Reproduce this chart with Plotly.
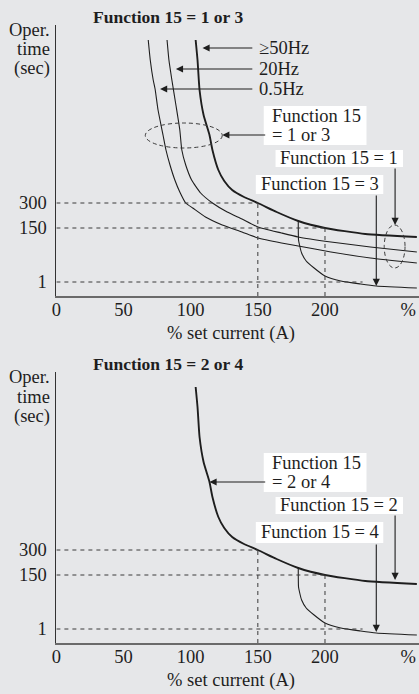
import plotly.graph_objects as go

FONT = "Liberation Serif, Times New Roman, serif"
INK = "#1e1e1e"
BG = "#e6e7e9"
W, H = 419, 694
FS = 18.5

# ---------------- data ----------------
current_ticks = [0, 50, 100, 150, 200, 262]
current_tick_labels = ["0", "50", "100", "150", "200", "%"]
time_tick_pos = [93, 68, 14]          # position of the (non-linear) time ticks
time_tick_labels = ["300", "150", "1"]

guide_levels = [93, 68, 14]           # dashed horizontal guides (300, 150, 1 s)
guide_ends = [150, 200, 228]          # where each horizontal guide stops (% current)
ref_currents = [150, 200]             # dashed vertical guides
ref_levels = [93, 68]

# >=50Hz  (also Function 15 = 2 or 4 main curve)
cur_50hz = [103.7, 105.1, 106.6, 109.6, 114.0, 116.2, 120.6, 125.0, 130.9, 139.7,
            150.0, 164.0, 180.1, 200.0, 230.0, 268.4]
time_50hz = [256, 236, 206, 181, 161, 146, 126, 115, 106, 99,
             93, 84, 75, 68, 62, 59]

# 20Hz
cur_20hz = [82.4, 83.8, 86.0, 89.0, 91.9, 93.4, 96.3, 100.7, 107.4, 116.2,
            127.2, 138.2, 150.0, 167.6, 180.1, 204.4, 233.8, 268.4]
time_20hz = [256, 236, 216, 191, 166, 146, 131, 116, 103, 93,
             84, 77, 69, 63, 59, 54, 49, 44]

# 0.5Hz
cur_05hz = [68.4, 69.9, 72.1, 73.5, 75.7, 79.4, 81.6, 84.6, 88.2, 91.9,
            96.3, 101.5, 111.0, 123.5, 138.2, 150.0, 167.6, 180.1, 204.4, 233.8, 268.4]
time_05hz = [256, 236, 216, 207, 186, 161, 146, 131, 116, 104,
             93, 88, 79, 71, 64, 58, 53, 50, 44, 38, 33]

# Function 15 = 3 / 4 branch
cur_branch = [180.1, 180.3, 181.2, 182.6, 186.0, 191.9, 200.0, 211.8, 226.5, 238.2, 268.4]
time_branch = [75, 56, 50, 43, 35, 28, 20, 15, 12, 10, 8]

# ---------------- figure ----------------
fig = go.Figure()


def curve(xs, ys, width, sfx):
    fig.add_trace(go.Scatter(
        x=xs, y=ys, mode="lines",
        line=dict(color=INK, width=width, shape="spline", smoothing=0.5),
        xaxis="x" + sfx, yaxis="y" + sfx, hoverinfo="skip", showlegend=False))


shapes = []
annots = []


def txt(text, x, y, sfx, xanchor="left", bold=False, yref=None):
    annots.append(dict(
        text=("<b>%s</b>" % text) if bold else text,
        x=x, y=y, xref="x" + sfx, yref=yref or ("y" + sfx),
        xanchor=xanchor, yanchor="middle", showarrow=False,
        font=dict(family=FONT, size=FS, color=INK)))


def arrow(x, y, ax, ay, sfx):
    annots.append(dict(
        text="", x=x, y=y, ax=ax, ay=ay, xref="x" + sfx, yref="y" + sfx,
        axref="x" + sfx, ayref="y" + sfx, showarrow=True,
        arrowhead=2, arrowsize=1.3, arrowwidth=1.1, arrowcolor=INK))


def box(x0, x1, y0, y1, sfx):
    shapes.append(dict(type="rect", xref="x" + sfx, yref="y" + sfx,
                       x0=x0, x1=x1, y0=y0, y1=y1,
                       fillcolor="white", line=dict(width=0)))


def dline(x0, y0, x1, y1, sfx):
    shapes.append(dict(type="line", xref="x" + sfx, yref="y" + sfx,
                       x0=x0, y0=y0, x1=x1, y1=y1,
                       line=dict(color="#3a3a3a", width=1, dash="4px,4px")))


def ellipse(x0, x1, y0, y1, sfx):
    shapes.append(dict(type="circle", xref="x" + sfx, yref="y" + sfx,
                       x0=x0, x1=x1, y0=y0, y1=y1,
                       line=dict(color="#3a3a3a", width=1, dash="4px,3px")))


def panel(sfx, axis_px, title):
    # guides
    for lev, end in zip(guide_levels, guide_ends):
        dline(0, lev, end, lev, sfx)
    for c, lev in zip(ref_currents, ref_levels):
        dline(c, 0, c, lev, sfx)
    # title + y label (paper coords)
    py = lambda p: (H - p) / H
    annots.append(dict(text="<b>%s</b>" % title, x=83, y=py(axis_px - 279),
                       xref="x" + sfx, yref="paper", showarrow=False,
                       xanchor="center", yanchor="middle",
                       font=dict(family=FONT, size=17.5, color=INK)))
    for i, line in enumerate(["Oper.", "time", "(sec)"]):
        annots.append(dict(text=line, x=48 / W, y=py(axis_px - 266 + 19.5 * i),
                           xref="paper", yref="paper", showarrow=False,
                           xanchor="right", yanchor="middle",
                           font=dict(family=FONT, size=FS, color=INK)))
    annots.append(dict(text="% set current (A)", x=130, y=py(axis_px + 37),
                       xref="x" + sfx, yref="paper", showarrow=False,
                       xanchor="center", yanchor="middle",
                       font=dict(family=FONT, size=FS, color=INK)))


# ---- top panel: Function 15 = 1 or 3 ----
panel("", 296, "Function 15 = 1 or 3")
curve(cur_05hz, time_05hz, 1.1, "")
curve(cur_20hz, time_20hz, 1.1, "")
curve(cur_branch, time_branch, 1.1, "")
curve(cur_50hz, time_50hz, 1.9, "")

arrow(108.8, 248, 147, 248, "")
arrow(89.0, 227, 147, 227, "")
arrow(77.2, 207, 147, 207, "")
txt("≥50Hz", 149.3, 248, "")
txt("20Hz", 149.3, 227, "")
txt("0.5Hz", 149.3, 207, "")

ellipse(66.2, 123.5, 148, 173, "")
box(154.4, 230.9, 151, 190, "")
txt("Function 15", 159, 180, "")
txt("= 1 or 3", 159, 161, "")
arrow(123.5, 161, 156.6, 161, "")

box(163.2, 258.1, 129, 146, "")
txt("Function 15 = 1", 210.7, 138, "", xanchor="center")
arrow(252.2, 71, 252.2, 129, "")
ellipse(244.1, 259.6, 28, 71, "")

box(148.5, 243.4, 102, 121, "")
txt("Function 15 = 3", 196, 111.5, "", xanchor="center")
arrow(238.2, 10, 238.2, 102, "")

# ---- bottom panel: Function 15 = 2 or 4 ----
panel("2", 643, "Function 15 = 2 or 4")
curve(cur_branch, time_branch, 1.1, "2")
curve(cur_50hz, time_50hz, 1.9, "2")

box(154.4, 230.9, 151, 190, "2")
txt("Function 15", 159, 180, "2")
txt("= 2 or 4", 159, 161, "2")
arrow(114.0, 161, 156.6, 161, "2")

box(163.2, 258.1, 129, 146, "2")
txt("Function 15 = 2", 210.7, 138, "2", xanchor="center")
arrow(252.2, 63, 252.2, 129, "2")

box(148.5, 243.4, 100, 121, "2")
txt("Function 15 = 4", 196, 111, "2", xanchor="center")
arrow(238.2, 11, 238.2, 100, "2")

# ---------------- axes ----------------
xcommon = dict(range=[0, 270], showgrid=False, zeroline=False, showline=True,
               linecolor="#6a6a6a", linewidth=2, ticks="",
               tickvals=current_ticks, ticktext=current_tick_labels,
               ticklabelstandoff=-4,
               tickfont=dict(family=FONT, size=FS, color=INK), fixedrange=True)
ycommon = dict(range=[0, 271], showgrid=False, zeroline=False, showline=True,
               linecolor="#333333", linewidth=1, ticks="",
               tickvals=time_tick_pos, ticktext=time_tick_labels,
               ticklabelstandoff=5,
               tickfont=dict(family=FONT, size=FS, color=INK), fixedrange=True)

fig.update_layout(
    width=W, height=H,
    margin=dict(l=0, r=0, t=0, b=0),
    paper_bgcolor=BG, plot_bgcolor=BG,
    showlegend=False,
    xaxis=dict(domain=[52 / W, 1], anchor="y", **xcommon),
    yaxis=dict(domain=[(H - 296) / H, (H - 25) / H], anchor="x", **ycommon),
    xaxis2=dict(domain=[52 / W, 1], anchor="y2", **xcommon),
    yaxis2=dict(domain=[(H - 643) / H, (H - 372) / H], anchor="x2", **ycommon),
    shapes=shapes,
    annotations=annots,
)

fig.write_html("out.html",
               config={"displayModeBar": False, "staticPlot": True},
               post_script="document.body.style.margin='0';"
                           "document.body.style.overflow='hidden';"
                           "document.body.style.background='%s';" % BG)
